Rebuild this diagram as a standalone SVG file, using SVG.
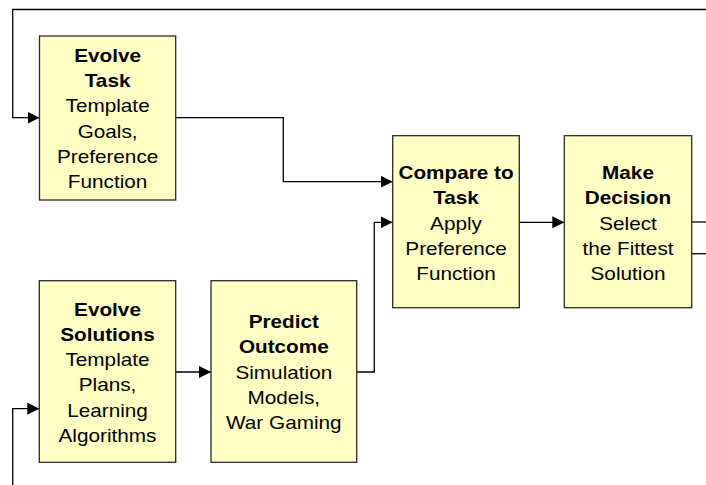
<svg xmlns="http://www.w3.org/2000/svg" width="706" height="485" viewBox="0 0 706 485">
<style>
.box{fill:#FFFFC4;stroke:#2a2a2a;stroke-width:1.3}
.t{font-family:"Liberation Sans",Arial,sans-serif;font-size:18.6px;fill:#000;text-anchor:middle}
.b{font-weight:bold}
.c{fill:none;stroke:#000;stroke-width:1.3}
</style>
<defs>
<marker id="ah" viewBox="0 0 12 12" refX="12" refY="6" markerWidth="12" markerHeight="12" markerUnits="userSpaceOnUse" orient="auto">
<path d="M0,0 L12,6 L0,12 Z" fill="#000"/>
</marker>
</defs>
<rect width="706" height="485" fill="#fff"/>
<g id="connectors">
<path class="c" d="M706,9.5 H12.7 V117.7 H39.5" marker-end="url(#ah)"/>
<path class="c" d="M175.7,117.7 H283.3 V181.7 H392.7" marker-end="url(#ah)"/>
<path class="c" d="M356.7,372 H374.3 V222.3 H392.7" marker-end="url(#ah)"/>
<path class="c" d="M519.3,222.3 H564.3" marker-end="url(#ah)"/>
<path class="c" d="M691.7,222 H706"/>
<path class="c" d="M691.7,253.7 H706"/>
<path class="c" d="M175.7,372 H211" marker-end="url(#ah)"/>
<path class="c" d="M12.7,485 V408.7 H39.3" marker-end="url(#ah)"/>
</g>
<g id="evolve-task">
<rect class="box" x="39.5" y="36" width="136.2" height="164"/>
<g transform="translate(107.6,0) scale(1.115,1)">
<text class="t b" x="0" y="62">Evolve</text>
<text class="t b" x="0" y="87.2">Task</text>
<text class="t" x="0" y="112.5">Template</text>
<text class="t" x="0" y="137.8">Goals,</text>
<text class="t" x="0" y="163.1">Preference</text>
<text class="t" x="0" y="188.4">Function</text>
</g>
</g>
<g id="compare-to-task">
<rect class="box" x="392.7" y="135.7" width="126.6" height="172"/>
<g transform="translate(456,0) scale(1.115,1)">
<text class="t b" x="0" y="179.5">Compare to</text>
<text class="t b" x="0" y="204.5">Task</text>
<text class="t" x="0" y="229.7">Apply</text>
<text class="t" x="0" y="255">Preference</text>
<text class="t" x="0" y="280">Function</text>
</g>
</g>
<g id="make-decision">
<rect class="box" x="564.3" y="135.7" width="127.4" height="172"/>
<g transform="translate(628,0) scale(1.115,1)">
<text class="t b" x="0" y="179.5">Make</text>
<text class="t b" x="0" y="204.5">Decision</text>
<text class="t" x="0" y="229.7">Select</text>
<text class="t" x="0" y="255">the Fittest</text>
<text class="t" x="0" y="280">Solution</text>
</g>
</g>
<g id="evolve-solutions">
<rect class="box" x="39.3" y="280.7" width="136.4" height="181.6"/>
<g transform="translate(107.5,0) scale(1.115,1)">
<text class="t b" x="0" y="316">Evolve</text>
<text class="t b" x="0" y="341">Solutions</text>
<text class="t" x="0" y="366.3">Template</text>
<text class="t" x="0" y="391.5">Plans,</text>
<text class="t" x="0" y="416.7">Learning</text>
<text class="t" x="0" y="441.8">Algorithms</text>
</g>
</g>
<g id="predict-outcome">
<rect class="box" x="211" y="280.7" width="145.7" height="181.6"/>
<g transform="translate(283.8,0) scale(1.115,1)">
<text class="t b" x="0" y="328.5">Predict</text>
<text class="t b" x="0" y="353.5">Outcome</text>
<text class="t" x="0" y="379">Simulation</text>
<text class="t" x="0" y="404.3">Models,</text>
<text class="t" x="0" y="429.5">War Gaming</text>
</g>
</g>
</svg>
